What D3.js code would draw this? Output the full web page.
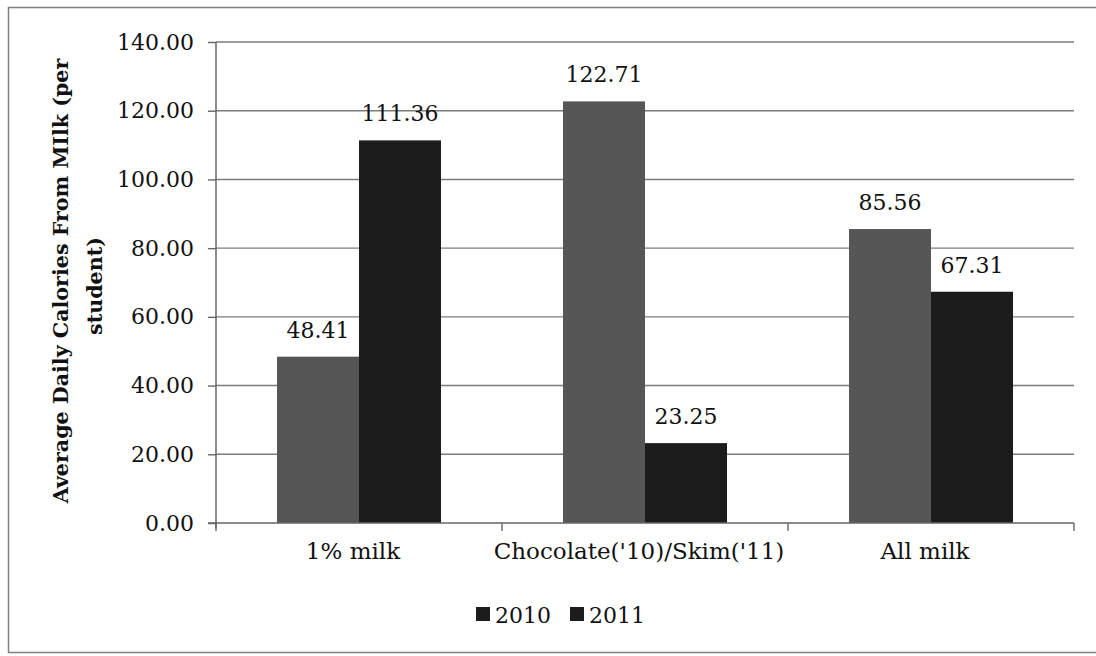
<!DOCTYPE html>
<html>
<head>
<meta charset="utf-8">
<script src="https://cdn.jsdelivr.net/npm/d3@7"></script>
<style>
  html, body { margin: 0; padding: 0; background: #fff; }
  svg { display: block; }
  text { font-family: "DejaVu Serif", "Liberation Serif", serif; fill: #111; }
</style>
</head>
<body>
<svg id="chart" width="1096" height="656"></svg>
<script>
// Average daily calories from milk per student, by milk type and year
const categories = ["1% milk", "Chocolate('10)/Skim('11)", "All milk"];
const seriesNames = ["2010", "2011"];
const values2010 = [48.41, 122.71, 85.56];
const values2011 = [111.36, 23.25, 67.31];
const yTicks = [0, 20, 40, 60, 80, 100, 120, 140];
const seriesColors = ["#565656", "#1c1c1c"];

const svg = d3.select("#chart");
const plot = { left: 216, right: 1074, top: 42, bottom: 523 };

// outer frame (right edge runs past the canvas)
svg.append("rect")
  .attr("x", 8.5).attr("y", 7.5)
  .attr("width", 1100).attr("height", 645)
  .attr("fill", "#fff").attr("stroke", "#808080").attr("stroke-width", 1.5);

const y = d3.scaleLinear().domain([0, 140]).range([plot.bottom, plot.top]);
const x0 = d3.scaleBand().domain(categories).range([plot.left, plot.right]).padding(0);
const x1 = d3.scaleBand().domain(seriesNames).range([0, x0.bandwidth()])
  .paddingInner(0).paddingOuter(0.744);
const color = d3.scaleOrdinal().domain(seriesNames).range(seriesColors);

const rows = categories.map((c, i) => ({
  category: c,
  values: [
    { series: "2010", value: values2010[i] },
    { series: "2011", value: values2011[i] }
  ]
}));

// horizontal gridlines
svg.append("g")
  .selectAll("line")
  .data(yTicks.filter(t => t > 0))
  .join("line")
  .attr("x1", plot.left).attr("x2", plot.right)
  .attr("y1", d => y(d)).attr("y2", d => y(d))
  .attr("stroke", "#7c7c7c").attr("stroke-width", 1.4);

// bars
const groups = svg.append("g")
  .selectAll("g")
  .data(rows)
  .join("g")
  .attr("transform", d => `translate(${x0(d.category)},0)`);

groups.selectAll("rect")
  .data(d => d.values)
  .join("rect")
  .attr("x", d => x1(d.series))
  .attr("y", d => y(d.value))
  .attr("width", x1.bandwidth())
  .attr("height", d => y(0) - y(d.value))
  .attr("fill", d => color(d.series));

// value labels
groups.selectAll("text")
  .data(d => d.values)
  .join("text")
  .attr("x", d => x1(d.series) + x1.bandwidth() / 2)
  .attr("y", d => y(d.value) - 19)
  .attr("text-anchor", "middle")
  .attr("font-size", 22)
  .text(d => d.value.toFixed(2));

// y axis
const yAxis = d3.axisLeft(y).tickValues(yTicks).tickFormat(d3.format(".2f"))
  .tickSize(8).tickPadding(14);
const gy = svg.append("g").attr("transform", `translate(${plot.left},0)`).call(yAxis);
gy.select(".domain").attr("stroke", "#666").attr("stroke-width", 1.5)
  .attr("d", `M0,${plot.top}V${plot.bottom + 5}`);
gy.selectAll(".tick line").attr("stroke", "#666").attr("stroke-width", 1.4);
gy.selectAll(".tick text")
  .attr("font-family", "DejaVu Serif, serif")
  .attr("font-size", 22).attr("fill", "#111");

// x axis with ticks at category boundaries
svg.append("line")
  .attr("x1", plot.left - 8).attr("x2", plot.right)
  .attr("y1", plot.bottom).attr("y2", plot.bottom)
  .attr("stroke", "#666").attr("stroke-width", 1.5);
const boundaries = categories.map(c => x0(c)).concat([plot.right]);
svg.append("g").selectAll("line")
  .data(boundaries)
  .join("line")
  .attr("x1", d => d).attr("x2", d => d)
  .attr("y1", plot.bottom).attr("y2", plot.bottom + 8)
  .attr("stroke", "#666").attr("stroke-width", 1.4);

svg.append("g").selectAll("text")
  .data(categories)
  .join("text")
  .attr("x", d => x0(d) + x0.bandwidth() / 2 - 6)
  .attr("y", 559)
  .attr("text-anchor", "middle")
  .attr("font-size", 23)
  .text(d => d);

// y axis title (two lines, rotated)
const title = svg.append("g");
title.append("text")
  .attr("transform", "translate(68,281) rotate(-90)")
  .attr("text-anchor", "middle")
  .attr("font-weight", "bold")
  .attr("font-size", 20.6)
  .text("Average Daily Calories From MIlk (per");
title.append("text")
  .attr("transform", "translate(102,286) rotate(-90)")
  .attr("text-anchor", "middle")
  .attr("font-weight", "bold")
  .attr("font-size", 20.6)
  .text("student)");

// legend
const legendX = [476, 570];
const legend = svg.append("g").selectAll("g")
  .data(seriesNames)
  .join("g")
  .attr("transform", (d, i) => `translate(${legendX[i]},0)`);
legend.append("rect")
  .attr("x", 0).attr("y", 607).attr("width", 14).attr("height", 14)
  .attr("fill", "#1c1c1c");
legend.append("text")
  .attr("x", 19).attr("y", 623)
  .attr("font-size", 22)
  .text(d => d);
</script>
</body>
</html>
